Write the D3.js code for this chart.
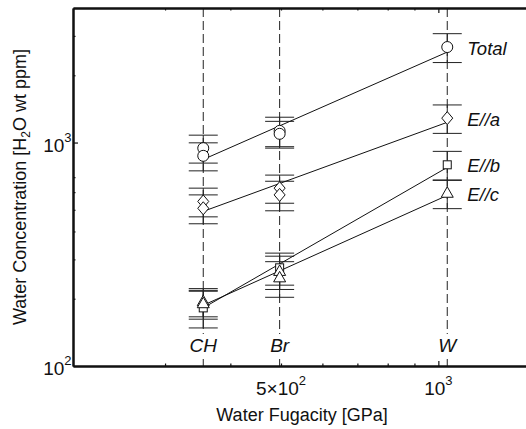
<!DOCTYPE html>
<html><head><meta charset="utf-8">
<script src="https://cdn.jsdelivr.net/npm/d3@7"></script>
<style>body{margin:0;background:#fff} svg{display:block} text{font-family:"Liberation Sans",Arial,sans-serif;fill:#111}</style>
</head><body><svg id="c" width="526" height="429"></svg>
<script>
const sites = ["CH", "Br", "W"];
const fugacity = [355, 497, 1040];
const seriesNames = ["Total", "E//a", "E//b", "E//c"];
const seriesSymbols = ["circle", "diamond", "square", "triangle"];
const totalValues = [[944, 872], [1128, 1094], [2675]];
const totalErrors = [[135, 125], [170, 150], [395]];
const aValues = [[545, 508], [625, 583], [1286]];
const aErrors = [[80, 75], [90, 88], [187]];
const bValues = [[182], [275], [795]];
const bErrors = [[34], [45], [118]];
const cValues = [[194, 190], [265, 248], [593]];
const cErrors = [[28, 28], [45, 45], [87]];
const fitEnds = [[840, 2540], [492, 1232], [182, 774], [187, 580]]; // fitted values at CH and W
const xMinorTicks = [300, 400, 500, 600, 700, 800, 900, 2000];
const xTickValues = [500, 1000];
const xTickLabels = [["5×10", "2"], ["10", "3"]];
const yMinorTicks = [200, 300, 400, 500, 600, 700, 2000, 3000];
const yTickValues = [100, 1000];
const yTickLabels = [["10", "2"], ["10", "3"]];

const allValues = [totalValues, aValues, bValues, cValues];
const allErrors = [totalErrors, aErrors, bErrors, cErrors];

const svg = d3.select("#c");
const x = d3.scaleLog().domain([200, 2000]).range([73, 595.7]);
const y = d3.scaleLog().domain([100, 4000]).range([366, 8]);
const yTop = y.range()[1], yBot = y.range()[0];

// dashed site lines
svg.append("g").selectAll("line").data(fugacity).join("line")
  .attr("x1", d => x(d)).attr("x2", d => x(d))
  .attr("y1", yTop).attr("y2", yBot)
  .attr("stroke", "#222").attr("stroke-width", 1).attr("stroke-dasharray", "9,4");

// site labels with white background
const sl = svg.append("g");
sites.forEach((s, i) => {
  sl.append("rect").attr("x", x(fugacity[i]) - 16).attr("y", 334).attr("width", 32).attr("height", 22).attr("fill", "#fff");
  sl.append("text").attr("x", x(fugacity[i])).attr("y", 352).attr("text-anchor", "middle")
    .attr("font-size", 19).attr("font-style", "italic").text(s);
});

// error bars
const eb = svg.append("g").attr("stroke", "#222").attr("stroke-width", 1);
allValues.forEach((ser, si) => {
  ser.forEach((vals, ci) => {
    vals.forEach((v, k) => {
      const e = allErrors[si][ci][k];
      const cx = x(fugacity[ci]);
      eb.append("line").attr("x1", cx).attr("x2", cx).attr("y1", y(v - e)).attr("y2", y(v + e));
      [v - e, v + e].forEach(b => {
        eb.append("line").attr("x1", cx - 14.5).attr("x2", cx + 14.5).attr("y1", y(b)).attr("y2", y(b));
      });
    });
  });
});

// fit lines
svg.append("g").selectAll("line").data(fitEnds).join("line")
  .attr("x1", x(fugacity[0])).attr("x2", x(fugacity[2]))
  .attr("y1", d => y(d[0])).attr("y2", d => y(d[1]))
  .attr("stroke", "#111").attr("stroke-width", 1);

// markers
function marker(g, type, cx, cy) {
  let el;
  if (type === "circle") el = g.append("circle").attr("cx", cx).attr("cy", cy).attr("r", 5.5);
  else if (type === "diamond") el = g.append("path").attr("d", `M${cx},${cy-6.5}L${cx+5.5},${cy}L${cx},${cy+6.5}L${cx-5.5},${cy}Z`);
  else if (type === "square") el = g.append("rect").attr("x", cx - 4).attr("y", cy - 4).attr("width", 8).attr("height", 8);
  else el = g.append("path").attr("d", `M${cx},${cy-6.5}L${cx+6},${cy+4}L${cx-6},${cy+4}Z`);
  el.attr("fill", "#fff").attr("stroke", "#111").attr("stroke-width", 1);
}
const mk = svg.append("g");
allValues.forEach((ser, si) => {
  ser.forEach((vals, ci) => {
    vals.forEach(v => marker(mk, seriesSymbols[si], x(fugacity[ci]), y(v)));
  });
});

// series labels
allValues.forEach((ser, si) => {
  const last = ser[2][0];
  svg.append("text").attr("x", x(fugacity[2]) + 20).attr("y", y(last) + 7.5)
    .attr("font-size", 18.5).attr("font-style", "italic").text(seriesNames[si]);
});

// axes
const axStyle = g => { g.select(".domain").attr("stroke", "#111").attr("stroke-width", 2); g.selectAll(".tick line").attr("stroke", "#111").attr("stroke-width", 1.2); g.selectAll(".tick text").remove(); };
svg.append("g").attr("transform", `translate(0,${yBot})`)
  .call(d3.axisBottom(x).tickValues(xMinorTicks).tickSizeInner(-2.5).tickSizeOuter(0).tickFormat("")).call(axStyle);
svg.append("g").attr("transform", `translate(0,${yBot})`)
  .call(d3.axisBottom(x).tickValues([1000]).tickSizeInner(-5).tickSizeOuter(0).tickFormat("")).call(axStyle);
svg.append("g").attr("transform", `translate(0,${yTop})`)
  .call(d3.axisTop(x).tickValues(xMinorTicks).tickSizeInner(-2.5).tickSizeOuter(0).tickFormat("")).call(axStyle);
svg.append("g").attr("transform", `translate(0,${yTop})`)
  .call(d3.axisTop(x).tickValues([1000]).tickSizeInner(-5).tickSizeOuter(0).tickFormat("")).call(axStyle);
svg.append("g").attr("transform", `translate(${x.range()[0]},0)`)
  .call(d3.axisLeft(y).tickValues(yMinorTicks).tickSizeInner(-2.5).tickSizeOuter(0).tickFormat("")).call(axStyle);
svg.append("g").attr("transform", `translate(${x.range()[0]},0)`)
  .call(d3.axisLeft(y).tickValues([1000]).tickSizeInner(-5).tickSizeOuter(0).tickFormat("")).call(axStyle);

// tick labels
xTickValues.forEach((v, i) => {
  const t = svg.append("text").attr("x", x(v)).attr("y", 395).attr("text-anchor", "middle").attr("font-size", 19);
  t.append("tspan").text(xTickLabels[i][0]);
  t.append("tspan").attr("dy", -10).attr("font-size", 13).text(xTickLabels[i][1]);
});
yTickValues.forEach((v, i) => {
  const t = svg.append("text").attr("x", 71.5).attr("y", y(v) + 9).attr("text-anchor", "end").attr("font-size", 19);
  t.append("tspan").text(yTickLabels[i][0]);
  t.append("tspan").attr("dy", -10).attr("font-size", 13).text(yTickLabels[i][1]);
});

// axis titles
svg.append("text").attr("x", 302).attr("y", 421).attr("text-anchor", "middle").attr("font-size", 18).text("Water Fugacity [GPa]");
const yt = svg.append("text").attr("transform", "translate(26,187) rotate(-90)").attr("text-anchor", "middle").attr("font-size", 18);
yt.append("tspan").text("Water Concentration [H");
yt.append("tspan").attr("dy", 4).attr("font-size", 12).text("2");
yt.append("tspan").attr("dy", -4).text("O wt ppm]");
</script></body></html>
